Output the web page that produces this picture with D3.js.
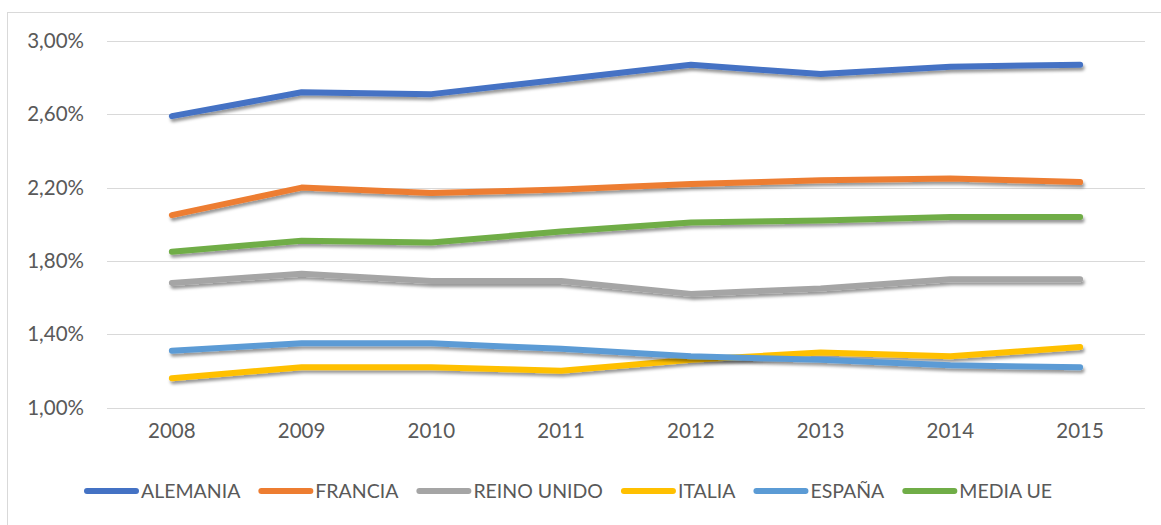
<!DOCTYPE html>
<html><head><meta charset="utf-8">
<script src="https://cdn.jsdelivr.net/npm/d3@7"></script>
<style>
body{margin:0;background:#fff;}
text{font-family:Lato,"Open Sans",sans-serif;fill:#595959;}
</style></head>
<body><svg id="c" width="1161" height="525"></svg>
<script>
const years = ["2008","2009","2010","2011","2012","2013","2014","2015"];
const yTicks = [1.0, 1.4, 1.8, 2.2, 2.6, 3.0];
const seriesNames = ["ALEMANIA","FRANCIA","REINO UNIDO","ITALIA","ESPAÑA","MEDIA UE"];
const seriesColors = ["#4472C4","#ED7D31","#A5A5A5","#FFC000","#5B9BD5","#70AD47"];
const alemania   = [2.59, 2.72, 2.71, 2.79, 2.87, 2.82, 2.86, 2.87];
const francia    = [2.05, 2.20, 2.17, 2.19, 2.22, 2.24, 2.25, 2.23];
const reinoUnido = [1.68, 1.73, 1.69, 1.69, 1.62, 1.65, 1.70, 1.70];
const italia     = [1.16, 1.22, 1.22, 1.20, 1.26, 1.30, 1.28, 1.33];
const espana     = [1.31, 1.35, 1.35, 1.32, 1.28, 1.26, 1.23, 1.22];
const mediaUE    = [1.85, 1.91, 1.90, 1.96, 2.01, 2.02, 2.04, 2.04];
const seriesValues = [alemania, francia, reinoUnido, italia, espana, mediaUE];

const svg = d3.select("#c");
const defs = svg.append("defs");
const f = defs.append("filter").attr("id","sh").attr("x","-5%").attr("y","-50%").attr("width","110%").attr("height","200%");
f.append("feDropShadow").attr("dx",1.5).attr("dy",3).attr("stdDeviation",1.8).attr("flood-color","#000").attr("flood-opacity",0.4);

svg.append("rect").attr("x",7.5).attr("y",12.5).attr("width",1170).attr("height",530)
  .attr("fill","none").attr("stroke","#D9D9D9").attr("stroke-width",1);

const x = d3.scaleBand().domain(years).range([107,1145]);
const y = d3.scaleLinear().domain([1.0,3.0]).range([407.5,41]);

svg.append("g").selectAll("line").data(yTicks).join("line")
  .attr("x1",107).attr("x2",1145)
  .attr("y1",d=>Math.round(y(d))+0.5).attr("y2",d=>Math.round(y(d))+0.5)
  .attr("stroke","#D9D9D9").attr("stroke-width",1);

const fmt = d => d3.format(".2f")(d).replace(".",",") + "%";
const yAxis = svg.append("g").attr("transform","translate(84,0)")
  .call(d3.axisLeft(y).tickValues(yTicks).tickFormat(fmt).tickSize(0).tickPadding(0));
yAxis.select(".domain").remove();
yAxis.selectAll("text").attr("font-size","20.5px").attr("fill","#595959").attr("font-family","Lato");

const xAxis = svg.append("g").attr("transform","translate(0,419)")
  .call(d3.axisBottom(x).tickSize(0).tickPadding(0));
xAxis.select(".domain").remove();
xAxis.selectAll("text").attr("font-size","20.5px").attr("fill","#595959").attr("font-family","Lato").attr("dy","0.95em");

const line = d3.line().x((d,i)=>x(years[i])+x.bandwidth()/2).y(d=>y(d));
svg.append("g").selectAll("path").data(seriesValues).join("path")
  .attr("d",d=>line(d)).attr("fill","none")
  .attr("stroke",(d,i)=>seriesColors[i]).attr("stroke-width",6)
  .attr("stroke-linecap","round").attr("stroke-linejoin","round")
  .attr("filter","url(#sh)");

const lg = svg.append("g");
let cx = 84;
const ly = 491;
seriesNames.forEach((n,i)=>{
  lg.append("line").attr("x1",cx+3).attr("x2",cx+52).attr("y1",ly).attr("y2",ly)
    .attr("stroke",seriesColors[i]).attr("stroke-width",6).attr("stroke-linecap","round");
  const t = lg.append("text").attr("x",cx+57).attr("y",ly).attr("dy","0.36em")
    .attr("font-size","19.5px").text(n);
  const w = t.node().getComputedTextLength();
  cx = cx + 57 + w + 18;
});
</script></body></html>
